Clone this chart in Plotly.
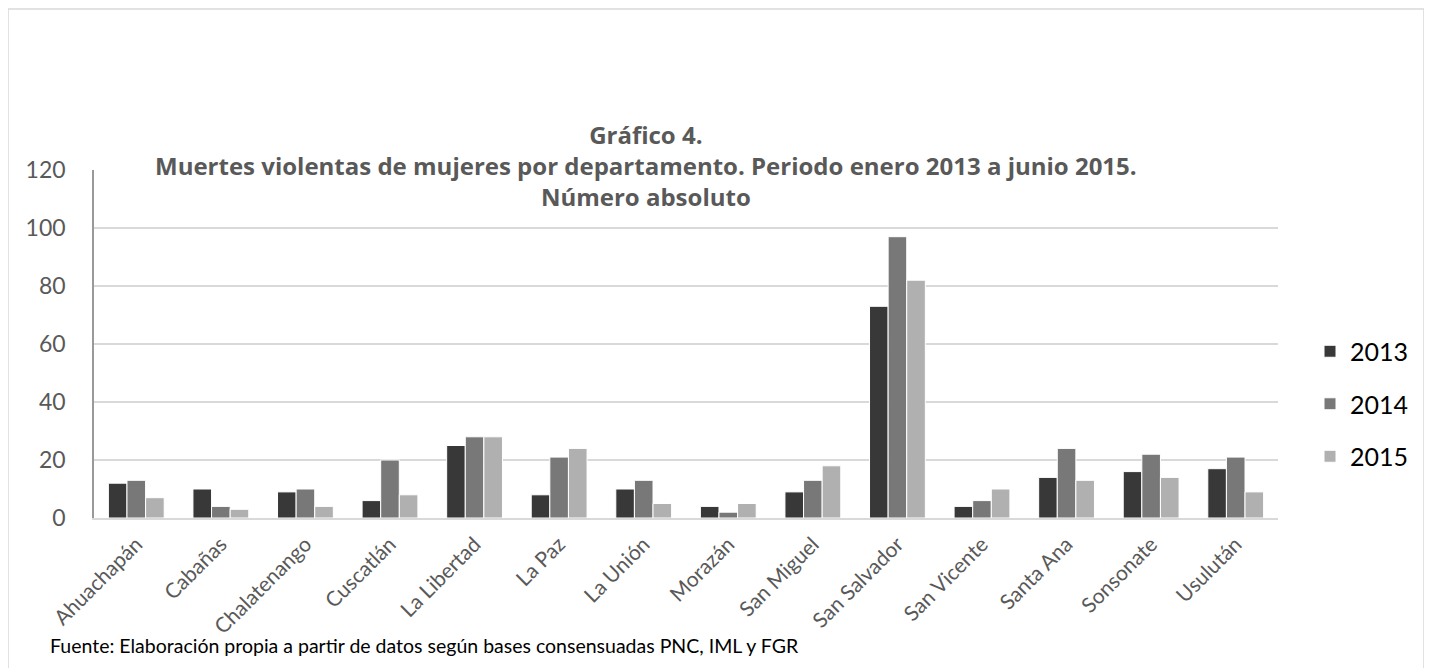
import plotly.graph_objects as go

departamentos = ["Ahuachapán", "Cabañas", "Chalatenango", "Cuscatlán", "La Libertad",
                 "La Paz", "La Unión", "Morazán", "San Miguel", "San Salvador",
                 "San Vicente", "Santa Ana", "Sonsonate", "Usulután"]
v2013 = [12, 10, 9, 6, 25, 8, 10, 4, 9, 73, 4, 14, 16, 17]
v2014 = [13, 4, 10, 20, 28, 21, 13, 2, 13, 97, 6, 24, 22, 21]
v2015 = [7, 3, 4, 8, 28, 24, 5, 5, 18, 82, 10, 13, 14, 9]

titulo = ["Gráfico 4.",
          "Muertes violentas de mujeres por departamento. Periodo enero 2013 a junio 2015.",
          "Número absoluto"]
fuente = "Fuente: Elaboración propia a partir de datos según bases consensuadas PNC, IML y FGR"

FONT = "Lato"
TITLE_FONT = "Open Sans"

# the page has an 8px body margin, so the figure is 1424x660 sitting at (8, 8)
# helpers turn page pixel positions into paper coordinates of the plot area
PL, PR, PT, PB = 94, 1278, 170, 518


def px_x(x):
    return (x - PL) / (PR - PL)


def px_y(y):
    return (PB - y) / (PB - PT)


fig = go.Figure()
for name, vals, col in [("2013", v2013, "#383838"),
                        ("2014", v2014, "#787878"),
                        ("2015", v2015, "#b0b0b0")]:
    fig.add_trace(go.Bar(x=departamentos, y=vals, name=name, legendgroup=name,
                         marker=dict(color=col, line=dict(color="white", width=1))))

fig.update_layout(
    width=1424, height=660,
    paper_bgcolor="white", plot_bgcolor="white",
    margin=dict(l=PL - 8, r=1432 - PR, t=PT - 8, b=668 - PB, autoexpand=False),
    barmode="group", bargap=0.34, bargroupgap=0,
    font=dict(family=FONT, color="#595959"),
    legend=dict(
        x=px_x(1310), xanchor="left", y=px_y(404), yanchor="middle",
        font=dict(family=FONT, size=25, color="#000000"),
        tracegroupgap=17, itemwidth=30,
    ),
    showlegend=True,
)
fig.update_yaxes(range=[0, 120], dtick=20, showgrid=True, gridcolor="#d9d9d9", gridwidth=1.5,
                 showline=True, linecolor="#999999", linewidth=1.5,
                 ticks="", ticklabelstandoff=22,
                 tickfont=dict(family=FONT, size=23, color="#595959"),
                 zeroline=False)
fig.update_xaxes(tickangle=-45, showline=True, linecolor="#d9d9d9", linewidth=1.5,
                 ticklabelstandoff=4,
                 tickfont=dict(family=FONT, size=21, color="#595959"))

fig.add_annotation(text="<b>" + "<br>".join(titulo) + "</b>", xref="paper", yref="paper",
                   x=px_x(646), y=px_y(165), xanchor="center", yanchor="middle",
                   showarrow=False, font=dict(family=TITLE_FONT, size=24, color="#595959"))

fig.add_annotation(text=fuente, xref="paper", yref="paper", x=px_x(48), y=px_y(645),
                   xanchor="left", yanchor="middle", showarrow=False,
                   font=dict(family=FONT, size=19.5, color="#000000"))

fig.add_shape(type="rect", xref="paper", yref="paper",
              x0=px_x(8), x1=px_x(1424), y0=px_y(680), y1=px_y(9),
              line=dict(color="#d9d9d9", width=1.5), fillcolor="rgba(0,0,0,0)", layer="below")

fig.write_html("out.html")
